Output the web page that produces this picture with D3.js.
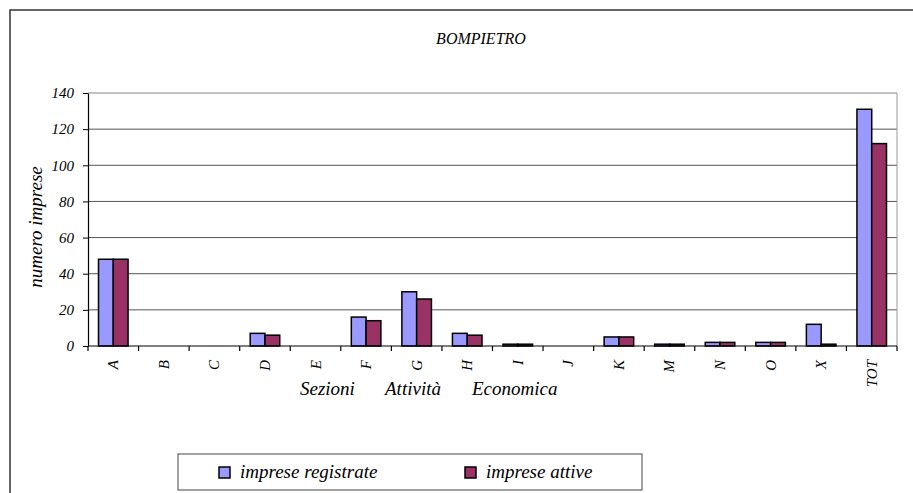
<!DOCTYPE html>
<html>
<head>
<meta charset="utf-8">
<script src="https://cdn.jsdelivr.net/npm/d3@7"></script>
<style>
body { margin:0; background:#fff; }
</style>
</head>
<body>
<svg id="grafico" width="913" height="493"></svg>
<script>
// dati
var sezioni = ["A","B","C","D","E","F","G","H","I","J","K","M","N","O","X","TOT"];
var registrate = [48,0,0,7,0,16,30,7,1,0,5,1,2,2,12,131];
var attive = [48,0,0,6,0,14,26,6,1,0,5,1,2,2,1,112];
var serie = ["imprese registrate","imprese attive"];
var colori = ["#9999ff","#993366"];
var tickY = [0,20,40,60,80,100,120,140];

var svg = d3.select("#grafico");
var fonte = "'Liberation Serif','Times New Roman',serif";

// cornice esterna
svg.append("rect").attr("x",10).attr("y",10).attr("width",950).attr("height",520)
    .attr("fill","none").attr("stroke","#333").attr("stroke-width",1.5);

var sinistra = 88, destra = 897, alto = 93, basso = 346;

var x = d3.scaleBand().domain(sezioni).range([sinistra,destra]).paddingInner(0).paddingOuter(0);
var xs = d3.scaleBand().domain(serie).range([10.5, x.bandwidth()-10.5]);
var y = d3.scaleLinear().domain([0,140]).range([basso,alto]);

// griglia
svg.append("g").selectAll("line").data(tickY.slice(1)).enter().append("line")
    .attr("x1",sinistra).attr("x2",destra)
    .attr("y1",function(d){return y(d);}).attr("y2",function(d){return y(d);})
    .attr("stroke",function(d){return d==140 ? "#888" : "#555";}).attr("stroke-width",1);
svg.append("line").attr("x1",destra).attr("x2",destra).attr("y1",alto).attr("y2",basso)
    .attr("stroke","#999").attr("stroke-width",1);

// barre
var gruppi = svg.append("g").selectAll("g").data(sezioni).enter().append("g")
    .attr("transform",function(d){return "translate("+x(d)+",0)";});
gruppi.selectAll("rect").data(function(d,i){return [registrate[i],attive[i]];}).enter()
    .filter(function(d){return d>0;})
    .append("rect")
    .attr("x",function(d,j){return xs(serie[j]);})
    .attr("width",xs.bandwidth())
    .attr("y",function(d){return y(d);})
    .attr("height",function(d){return basso-y(d);})
    .attr("fill",function(d,j){return colori[j];})
    .attr("stroke","#000").attr("stroke-width",1.5);

// asse y
var asseY = svg.append("g").attr("transform","translate("+sinistra+",0)")
    .call(d3.axisLeft(y).tickValues(tickY).tickSize(5).tickSizeOuter(0).tickPadding(9));
asseY.select(".domain").attr("stroke","#000").attr("stroke-width",1.2);
asseY.selectAll("line").attr("stroke","#000");
asseY.selectAll("text").attr("font-size",15).attr("fill","#000");

// asse x
var asseX = svg.append("g").attr("transform","translate(0,"+basso+")");
asseX.append("line").attr("x1",sinistra).attr("x2",destra).attr("stroke","#000").attr("stroke-width",1.2);
asseX.selectAll("line.tick").data(sezioni.concat(["fine"])).enter().append("line")
    .attr("class","tick")
    .attr("x1",function(d,i){return sinistra+i*x.step();})
    .attr("x2",function(d,i){return sinistra+i*x.step();})
    .attr("y1",0).attr("y2",5).attr("stroke","#000").attr("stroke-width",1.2);
asseX.selectAll("text").data(sezioni).enter().append("text")
    .attr("transform",function(d){return "translate("+(x(d)+x.bandwidth()/2+5)+",14) rotate(-90)";})
    .attr("text-anchor","end")
    .attr("font-size",15)
    .text(function(d){return d;});

// titoli
svg.append("text").attr("x",481).attr("y",44).attr("text-anchor","middle").attr("font-size",16).text("BOMPIETRO");
svg.append("text").attr("transform","translate(42,227) rotate(-90)").attr("text-anchor","middle")
    .attr("font-size",19).text("numero imprese");
var titoloX = ["Sezioni","Attività","Economica"];
var posTitoloX = [300,385,472];
svg.append("g").selectAll("text").data(titoloX).enter().append("text")
    .attr("x",function(d,i){return posTitoloX[i];}).attr("y",395).attr("font-size",19)
    .text(function(d){return d;});

// legenda
var leg = svg.append("g");
leg.append("rect").attr("x",178).attr("y",454).attr("width",464).attr("height",36)
    .attr("fill","#fff").attr("stroke","#444").attr("stroke-width",1);
var posLeg = [219,465];
var voci = leg.selectAll("g").data(serie).enter().append("g")
    .attr("transform",function(d,i){return "translate("+posLeg[i]+",467)";});
voci.append("rect").attr("width",11).attr("height",11)
    .attr("fill",function(d,i){return colori[i];}).attr("stroke","#000").attr("stroke-width",1.5);
voci.append("text").attr("x",21).attr("y",11).attr("font-size",19).text(function(d){return d;});

svg.selectAll("text").attr("font-family",fonte).attr("font-style","italic").attr("fill","#000");
</script>
</body>
</html>
